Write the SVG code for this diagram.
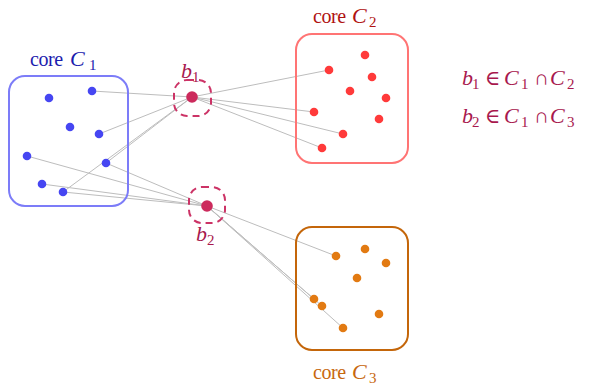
<svg xmlns="http://www.w3.org/2000/svg" width="597" height="385" viewBox="0 0 597 385">
  <style>
    text { font-family: "Liberation Serif", "DejaVu Serif", serif; }
    .word { font-size: 20px; letter-spacing: -0.4px; }
    .it { font-style: italic; font-size: 22px; }
    .sub { font-size: 15px; }
    .op { font-size: 21px; }
    .core { fill: none; stroke-width: 2; }
    .bbox { fill: none; stroke: #cc3366; stroke-width: 2; stroke-dasharray: 7 5; }
    .link { stroke: #bdbdbd; stroke-width: 1; fill: none; }
    .d1 { fill: #4646f2; }
    .d2 { fill: #ff3a3a; }
    .d3 { fill: #e27a12; }
    .bd { fill: #cc2a5c; }
    .bl { fill: #a8184e; }
  </style>

  <!-- connectors between the bridge points and the core points -->
  <g id="connectors">
    <!-- b1 -->
    <line class="link" x1="192" y1="97" x2="92" y2="91"/>
    <line class="link" x1="192" y1="97" x2="99" y2="134"/>
    <line class="link" x1="192" y1="97" x2="106" y2="163"/>
    <line class="link" x1="192" y1="97" x2="63" y2="192"/>
    <line class="link" x1="192" y1="97" x2="329" y2="70"/>
    <line class="link" x1="192" y1="97" x2="314" y2="112"/>
    <line class="link" x1="192" y1="97" x2="343" y2="134"/>
    <line class="link" x1="192" y1="97" x2="322" y2="148"/>
    <!-- b2 -->
    <line class="link" x1="207" y1="206" x2="27" y2="156"/>
    <line class="link" x1="207" y1="206" x2="106" y2="163"/>
    <line class="link" x1="207" y1="206" x2="42" y2="184"/>
    <line class="link" x1="207" y1="206" x2="63" y2="192"/>
    <line class="link" x1="207" y1="206" x2="336" y2="256"/>
    <line class="link" x1="207" y1="206" x2="314" y2="299"/>
    <line class="link" x1="207" y1="206" x2="322" y2="306"/>
    <line class="link" x1="207" y1="206" x2="343" y2="328"/>
  </g>

  <!-- core C1 -->
  <g id="core-c1">
    <rect class="core" x="9" y="76" width="119" height="130" rx="16" stroke="#7c7cf8"/>
    <circle class="d1" cx="49" cy="98" r="4.3"/>
    <circle class="d1" cx="92" cy="91" r="4.3"/>
    <circle class="d1" cx="70" cy="127" r="4.3"/>
    <circle class="d1" cx="99" cy="134" r="4.3"/>
    <circle class="d1" cx="27" cy="156" r="4.3"/>
    <circle class="d1" cx="106" cy="163" r="4.3"/>
    <circle class="d1" cx="42" cy="184" r="4.3"/>
    <circle class="d1" cx="63" cy="192" r="4.3"/>
    <text fill="#1c1cae"><tspan class="word" x="30" y="66">core</tspan><tspan class="it" x="70" y="66">C</tspan><tspan class="sub" x="89" y="70">1</tspan></text>
  </g>

  <!-- core C2 -->
  <g id="core-c2">
    <rect class="core" x="296" y="34" width="112" height="129" rx="16" stroke="#ff7474"/>
    <circle class="d2" cx="329" cy="70" r="4.3"/>
    <circle class="d2" cx="365" cy="55" r="4.3"/>
    <circle class="d2" cx="372" cy="77" r="4.3"/>
    <circle class="d2" cx="350" cy="91" r="4.3"/>
    <circle class="d2" cx="386" cy="98" r="4.3"/>
    <circle class="d2" cx="314" cy="112" r="4.3"/>
    <circle class="d2" cx="379" cy="119" r="4.3"/>
    <circle class="d2" cx="343" cy="134" r="4.3"/>
    <circle class="d2" cx="322" cy="148" r="4.3"/>
    <text fill="#b01212"><tspan class="word" x="313" y="23">core</tspan><tspan class="it" x="352" y="23">C</tspan><tspan class="sub" x="369" y="27">2</tspan></text>
  </g>

  <!-- core C3 -->
  <g id="core-c3">
    <rect class="core" x="296" y="227" width="112" height="123" rx="16" stroke="#c4660a"/>
    <circle class="d3" cx="336" cy="256" r="4.3"/>
    <circle class="d3" cx="365" cy="249" r="4.3"/>
    <circle class="d3" cx="386" cy="263" r="4.3"/>
    <circle class="d3" cx="357" cy="278" r="4.3"/>
    <circle class="d3" cx="314" cy="299" r="4.3"/>
    <circle class="d3" cx="322" cy="306" r="4.3"/>
    <circle class="d3" cx="379" cy="314" r="4.3"/>
    <circle class="d3" cx="343" cy="328" r="4.3"/>
    <text fill="#c8680e"><tspan class="word" x="313" y="379">core</tspan><tspan class="it" x="352" y="379">C</tspan><tspan class="sub" x="369" y="383">3</tspan></text>
  </g>

  <!-- bridge point b1 -->
  <g id="bridge-b1">
    <rect class="bbox" x="174" y="80" width="37" height="36" rx="13"/>
    <circle class="bd" cx="192" cy="97" r="5.8"/>
    <text class="bl"><tspan class="it" x="181" y="78">b</tspan><tspan class="sub" x="192" y="82">1</tspan></text>
  </g>

  <!-- bridge point b2 -->
  <g id="bridge-b2">
    <rect class="bbox" x="189" y="187" width="36" height="36" rx="13"/>
    <circle class="bd" cx="207" cy="206" r="5.8"/>
    <text class="bl"><tspan class="it" x="196" y="241">b</tspan><tspan class="sub" x="207" y="245">2</tspan></text>
  </g>

  <!-- membership notes -->
  <g id="legend" class="bl">
    <text><tspan class="it" x="462" y="85">b</tspan><tspan class="sub" x="472" y="89">1</tspan><tspan class="op" x="485" y="85">∈</tspan><tspan class="it" x="504" y="85">C</tspan><tspan class="sub" x="521" y="89">1</tspan><tspan class="op" x="534" y="85">∩</tspan><tspan class="it" x="550" y="85">C</tspan><tspan class="sub" x="567" y="89">2</tspan></text>
    <text><tspan class="it" x="462" y="123">b</tspan><tspan class="sub" x="472" y="127">2</tspan><tspan class="op" x="485" y="123">∈</tspan><tspan class="it" x="504" y="123">C</tspan><tspan class="sub" x="521" y="127">1</tspan><tspan class="op" x="534" y="123">∩</tspan><tspan class="it" x="550" y="123">C</tspan><tspan class="sub" x="567" y="127">3</tspan></text>
  </g>
</svg>
